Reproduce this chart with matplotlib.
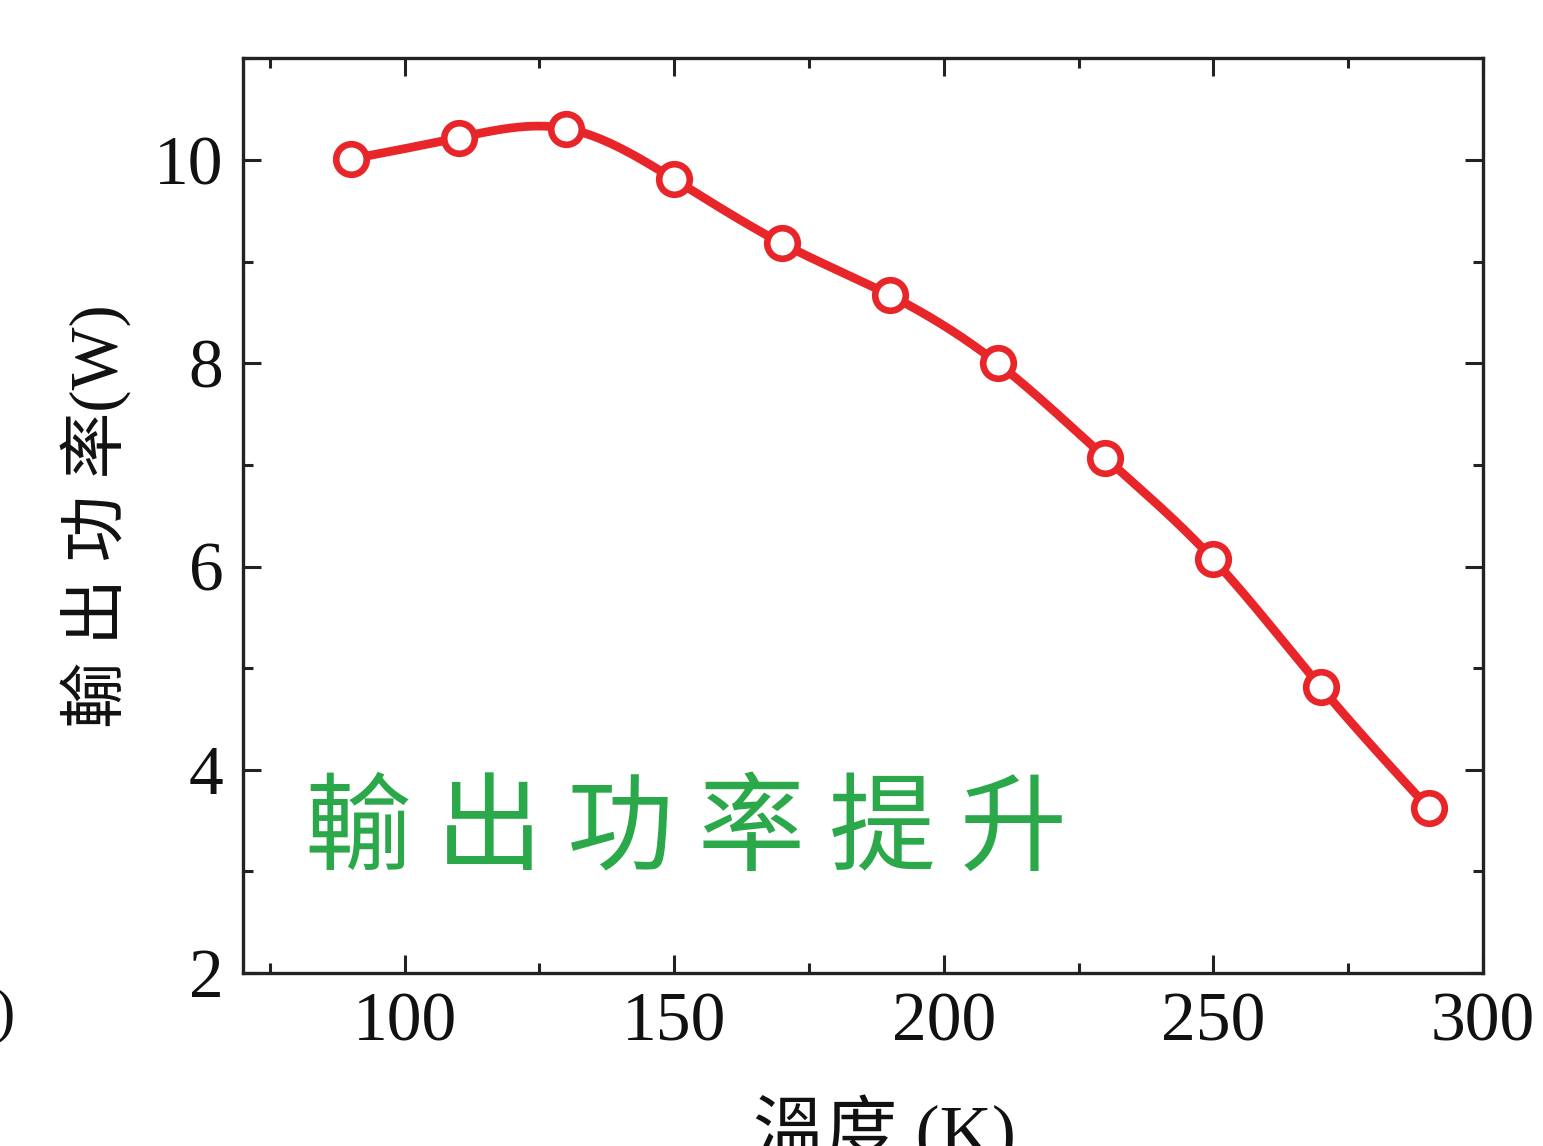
import numpy as np
import matplotlib
matplotlib.use("Agg")
import matplotlib.pyplot as plt
from matplotlib.ticker import MultipleLocator

temperature = [90, 110, 130, 150, 170, 190, 210, 230, 250, 270, 290]
power = [10.01, 10.22, 10.31, 9.81, 9.18, 8.67, 8.00, 7.07, 6.07, 4.81, 3.62]
x_ticks = [100, 150, 200, 250, 300]
y_ticks = [2, 4, 6, 8, 10]


def natural_spline(x, y, xs):
    x = np.asarray(x, float); y = np.asarray(y, float)
    n = len(x)
    h = np.diff(x)
    A = np.zeros((n, n)); b = np.zeros(n)
    A[0, 0] = 1; A[-1, -1] = 1
    for i in range(1, n - 1):
        A[i, i - 1] = h[i - 1]
        A[i, i] = 2 * (h[i - 1] + h[i])
        A[i, i + 1] = h[i]
        b[i] = 3 * ((y[i + 1] - y[i]) / h[i] - (y[i] - y[i - 1]) / h[i - 1])
    c = np.linalg.solve(A, b)
    out = np.empty_like(xs)
    for k, xv in enumerate(xs):
        i = min(max(np.searchsorted(x, xv) - 1, 0), n - 2)
        dx = xv - x[i]
        bi = (y[i + 1] - y[i]) / h[i] - h[i] * (2 * c[i] + c[i + 1]) / 3
        di = (c[i + 1] - c[i]) / (3 * h[i])
        out[k] = y[i] + bi * dx + c[i] * dx ** 2 + di * dx ** 3
    return out


serif = ["Liberation Serif", "DejaVu Serif"]
cjk = ["Liberation Serif", "Noto Sans CJK TC", "DejaVu Sans"]

fig = plt.figure(figsize=(15.43, 11.46), dpi=100)
ax = fig.add_axes([0.1575, 0.151, 0.8035, 0.798])

red = "#e8262a"
xs = np.linspace(temperature[0], temperature[-1], 400)
ax.plot(xs, natural_spline(temperature, power, xs), color=red, lw=6.3, zorder=2,
        solid_capstyle="round")
ax.plot(temperature, power, linestyle="none", marker="o", ms=22, mew=4.8,
        mec=red, mfc="white", zorder=3)

ax.set_xlim(70, 300)
ax.set_ylim(2, 11)
ax.set_xticks(x_ticks)
ax.set_yticks(y_ticks)
ax.xaxis.set_minor_locator(MultipleLocator(25))
ax.yaxis.set_minor_locator(MultipleLocator(1))
ax.tick_params(which="both", direction="in", top=True, right=True, width=2.2,
               colors="#222222")
ax.tick_params(which="major", length=13, labelsize=50, pad=14, labelcolor="#111111")
ax.tick_params(which="minor", length=7.5)
for lab in ax.get_xticklabels() + ax.get_yticklabels():
    lab.set_fontfamily(serif)
for s in ax.spines.values():
    s.set_linewidth(2.4)
    s.set_color("#222222")

ax.set_ylabel("輸 出 功 率(W)", fontsize=48, family=cjk, labelpad=16, color="#111111")
ax.set_xlabel("溫度 (K)", fontsize=52, family=cjk, labelpad=28, color="#111111")
ax.xaxis.label.set_x(0.517)

ax.text(0.05, 0.155, "輸 出 功 率 提 升", transform=ax.transAxes, fontsize=77,
        color="#2aa84a", family=["Noto Sans CJK TC"], ha="left", va="center")

fig.text(-0.004, 0.1, ")", fontsize=44, family=serif, color="#111111")

fig.savefig("out.png", dpi=100)
